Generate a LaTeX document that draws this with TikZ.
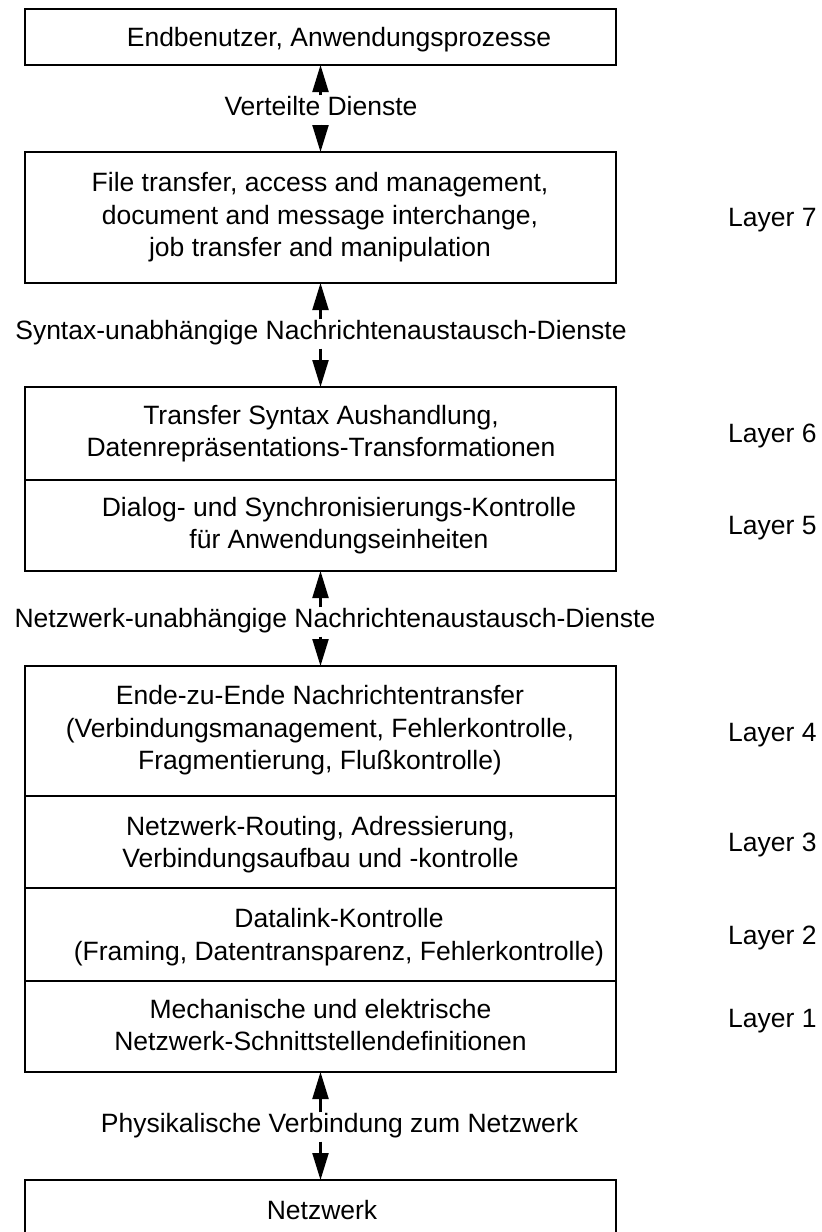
\documentclass[tikz,border=0pt]{standalone}
\usepackage{fontspec}
\setmainfont{Liberation Sans}
\usetikzlibrary{arrows.meta}
% strut giving every text line the same height and depth
\newcommand{\ls}{\rule[-6.75pt]{0pt}{32.5pt}}

\begin{document}
\begin{tikzpicture}[x=1pt,y=-1pt,
  every node/.style={font=\fontsize{26.5}{32.5}\selectfont},
  layerbox/.style={draw, line width=2.9pt, minimum width=591pt, inner sep=0pt, outer sep=0pt},
  boxtext/.style={align=center, inner sep=0pt},
  tag/.style={anchor=base west, inner sep=0pt},
  svc/.style={inner sep=1pt, text height=19pt, text depth=8pt, anchor=base},
  link/.style={line width=2.2pt, -{Triangle[length=27pt,width=16pt]}}
]
\useasboundingbox (0,0) rectangle (822,1232);
\fill[white] (0,0) rectangle (822,1232);
\clip (0,0) rectangle (822,1232);

% boxes
\node[layerbox, minimum height=56pt]  (b0) at (320.5,37) {};
\node[layerbox, minimum height=131pt] (b7) at (320.5,217.5) {};
\node[layerbox, minimum height=93pt]  (b6) at (320.5,433.5) {};
\node[layerbox, minimum height=91pt]  (b5) at (320.5,525.5) {};
\node[layerbox, minimum height=130pt] (b4) at (320.5,731) {};
\node[layerbox, minimum height=92pt]  (b3) at (320.5,842) {};
\node[layerbox, minimum height=93pt]  (b2) at (320.5,934.5) {};
\node[layerbox, minimum height=91pt]  (b1) at (320.5,1026.5) {};
\node[layerbox, minimum height=100pt] (bn) at (320.5,1230) {};

% box texts
\node[boxtext] (t0) at (339,37) {\ls Endbenutzer, Anwendungsprozesse};
\node[boxtext] (t7) at (320,214.7) {\ls File transfer, access and management,\\ \ls document and message interchange,\\ \ls job transfer and manipulation};
\node[boxtext] (t6) at (321,431) {\ls Transfer Syntax Aushandlung,\\ \ls Datenrepräsentations-Transformationen};
\node[boxtext] (t5) at (339,523) {\ls Dialog- und Synchronisierungs-Kontrolle\\ \ls für Anwendungseinheiten};
\node[boxtext] (t4) at (320,727.7) {\ls Ende-zu-Ende Nachrichtentransfer\\ \ls (Verbindungsmanagement, Fehlerkontrolle,\\ \ls Fragmentierung, Flußkontrolle)};
\node[boxtext] (t3) at (320.5,842) {\ls Netzwerk-Routing, Adressierung,\\ \ls Verbindungsaufbau und -kontrolle};
\node[boxtext] (t2) at (339,934.5) {\ls Datalink-Kontrolle\\ \ls (Framing, Datentransparenz, Fehlerkontrolle)};
\node[boxtext] (t1) at (320.5,1025) {\ls Mechanische und elektrische\\ \ls Netzwerk-Schnittstellendefinitionen};
\node[boxtext] (tn) at (322,1210) {\ls Netzwerk};

% layer tags
\node[tag] (l7) at (728,226.5) {Layer 7};
\node[tag] (l6) at (728,442.5) {Layer 6};
\node[tag] (l5) at (728,534.5) {Layer 5};
\node[tag] (l4) at (728,741.5) {Layer 4};
\node[tag] (l3) at (728,851.5) {Layer 3};
\node[tag] (l2) at (728,944.5) {Layer 2};
\node[tag] (l1) at (728,1027.5) {Layer 1};

% service labels between the boxes
\node[svc] (s1) at (321,115.5) {Verteilte Dienste};
\node[svc] (s2) at (321,339.5) {Syntax-unabhängige Nachrichtenaustausch-Dienste};
\node[svc] (s3) at (335,627.5) {Netzwerk-unabhängige Nachrichtenaustausch-Dienste};
\node[svc] (s4) at (339.5,1132.5) {Physikalische Verbindung zum Netzwerk};

% connectors
\draw[link] (s1.north -| b0.south) -- (b0.south);
\draw[link] (s1.south -| b7.north) -- (b7.north);
\draw[link] (s2.north -| b7.south) -- (b7.south);
\draw[link] (s2.south -| b6.north) -- (b6.north);
\draw[link] (s3.north -| b5.south) -- (b5.south);
\draw[link] (s3.south -| b4.north) -- (b4.north);
\draw[link] (s4.north -| b1.south) -- (b1.south);
\draw[link] (s4.south -| bn.north) -- (bn.north);
\end{tikzpicture}
\end{document}
